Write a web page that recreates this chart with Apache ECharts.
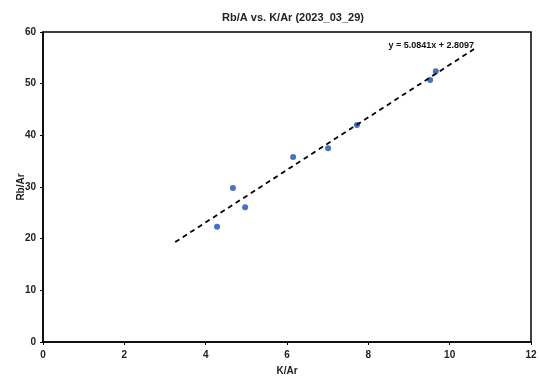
<!DOCTYPE html>
<html><head><meta charset="utf-8">
<script src="https://cdn.jsdelivr.net/npm/echarts@6/dist/echarts.min.js"></script>
<style>html,body{margin:0;padding:0;background:#fff}#c{width:540px;height:376px}</style>
</head><body><div id="c"></div>
<script>
const kAr = [4.28, 4.67, 4.97, 6.15, 7.01, 7.72, 9.52, 9.66];
const rbAr = [22.3, 29.8, 26.1, 35.8, 37.5, 42.0, 50.7, 52.4];
const trendSlope = 5.0841;
const trendIntercept = 2.8097;
const trendRange = [3.25, 10.6];
const trendLabel = 'y = 5.0841x + 2.8097';

const pts = kAr.map((x, i) => [x, rbAr[i]]);
const trend = trendRange.map(x => [x, trendSlope * x + trendIntercept]);
const font = 'Liberation Sans';
const chart = echarts.init(document.getElementById('c'));
chart.setOption({
  animation: false,
  textStyle: { fontFamily: font },
  title: { text: 'Rb/A vs. K/Ar (2023_03_29)', left: 288, top: 7, textAlign: 'center',
    textStyle: { fontSize: 11, fontWeight: 'bold', color: '#222', fontFamily: font } },
  grid: { left: 43, right: 9, top: 32, bottom: 34, show: true, borderColor: '#000', borderWidth: 1.5,
    containLabel: false, outerBoundsMode: 'none' },
  xAxis: { type: 'value', min: 0, max: 12, interval: 2, name: 'K/Ar', nameLocation: 'middle', nameGap: 24,
    nameMoveOverlap: false,
    nameTextStyle: { fontSize: 10, fontWeight: 'bold', color: '#222' },
    axisLine: { lineStyle: { color: '#000', width: 1.5 } },
    axisTick: { show: true, length: 3, lineStyle: { color: '#000' } },
    axisLabel: { fontSize: 10, fontWeight: 'bold', color: '#222', margin: 8 },
    splitLine: { show: false } },
  yAxis: { type: 'value', min: 0, max: 60, interval: 10, name: 'Rb/Ar', nameLocation: 'middle', nameGap: 17,
    nameMoveOverlap: false,
    nameTextStyle: { fontSize: 10, fontWeight: 'bold', color: '#222' },
    axisLine: { show: true, lineStyle: { color: '#000', width: 1.5 } },
    axisTick: { show: true, length: 3, lineStyle: { color: '#000' } },
    axisLabel: { fontSize: 10, fontWeight: 'bold', color: '#222', margin: 7 },
    splitLine: { show: false } },
  graphic: [{ type: 'text', right: 66, top: 41,
    style: { text: trendLabel, font: 'bold 9px Liberation Sans', fill: '#111' } }],
  series: [
    { type: 'line', data: trend, symbol: 'none', silent: true,
      lineStyle: { color: '#000', width: 1.8, type: [5, 4] } },
    { type: 'scatter', data: pts, symbol: 'circle', symbolSize: 6,
      itemStyle: { color: '#4472C4', opacity: 1 } }
  ]
});
</script></body></html>
